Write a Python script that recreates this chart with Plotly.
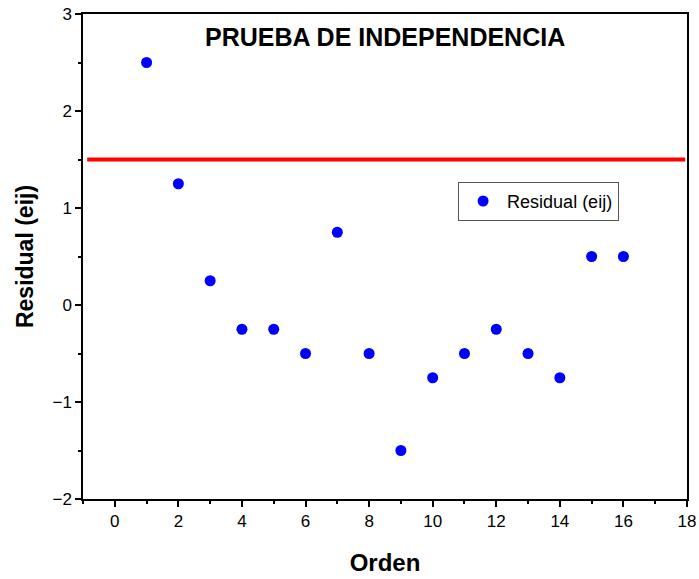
import plotly.graph_objects as go

orden = [1, 2, 3, 4, 5, 6, 7, 8, 9, 10, 11, 12, 13, 14, 15, 16]
residual = [2.5, 1.25, 0.25, -0.25, -0.25, -0.5, 0.75, -0.5, -1.5, -0.75,
            -0.5, -0.25, -0.5, -0.75, 0.5, 0.5]
limite = 1.5
x_ticks = [0, 2, 4, 6, 8, 10, 12, 14, 16, 18]
y_ticks = [-2, -1, 0, 1, 2, 3]

FONT = "Liberation Sans, Arial"

fig = go.Figure()

fig.add_trace(go.Scatter(
    x=orden, y=residual, mode="markers", name="Residual (eij)",
    marker=dict(color="#0000ff", size=11),
))

# horizontal reference line at y = 1.5
fig.add_shape(type="line", xref="paper", yref="y", x0=0.007, x1=0.997,
              y0=limite, y1=limite, line=dict(color="#ff0000", width=4))

fig.add_annotation(text="<b>PRUEBA DE INDEPENDENCIA</b>", xref="paper", yref="paper",
                   x=0.5, y=0.952, xanchor="center", yanchor="middle", showarrow=False,
                   font=dict(family=FONT, size=25, color="black"))

axis_common = dict(
    showgrid=False, zeroline=False, showline=True, linecolor="black", linewidth=1.5,
    mirror=True, ticks="outside", ticklen=6, tickwidth=1.5, tickcolor="black",
    automargin=False,
    tickfont=dict(family=FONT, size=17, color="black"),
)

fig.update_xaxes(range=[-1, 18], tickvals=x_ticks,
                 minor=dict(ticks="outside", ticklen=3, tickwidth=1.5, dtick=1,
                            tickcolor="black"),
                 title=dict(text="<b>Orden</b>", standoff=24,
                            font=dict(family=FONT, size=24, color="black")),
                 **axis_common)
fig.update_yaxes(range=[-2, 3], tickvals=y_ticks,
                 minor=dict(ticks="outside", ticklen=3, tickwidth=1.5, dtick=0.5,
                            tickcolor="black"),
                 title=dict(text="<b>Residual (eij)</b>", standoff=12,
                            font=dict(family=FONT, size=23, color="black")),
                 **axis_common)

fig.update_layout(
    width=699, height=579,
    margin=dict(l=83, r=12, t=14, b=80),
    plot_bgcolor="white", paper_bgcolor="white",
    showlegend=True,
    legend=dict(x=0.621, y=0.654, xanchor="left", yanchor="top",
                bordercolor="#555555", borderwidth=1, bgcolor="white",
                itemwidth=38, tracegroupgap=0,
                font=dict(family=FONT, size=18, color="black")),
)

fig.write_html("out.html")
